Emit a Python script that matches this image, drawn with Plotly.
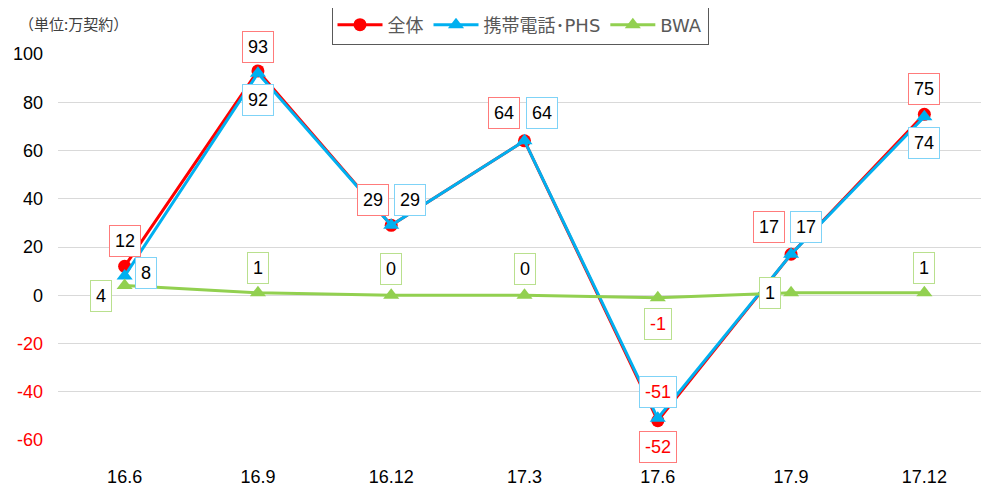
import plotly.graph_objects as go

categories = ["16.6", "16.9", "16.12", "17.3", "17.6", "17.9", "17.12"]
total = [12, 93, 29, 64, -52, 17, 75]
mobile_phs = [8, 92, 29, 64, -51, 17, 74]
bwa = [4, 1, 0, 0, -1, 1, 1]
y_ticks = [100, 80, 60, 40, 20, 0, -20, -40, -60]

series_names = ["全体", "携帯電話･PHS", "BWA"]
series_values = [total, mobile_phs, bwa]
line_colors = ["#FF0000", "#00B0F0", "#92D050"]
box_colors = ["#FF7B7B", "#7FD3F7", "#B9E08E"]
symbols = ["circle", "triangle-up", "triangle-up"]
marker_sizes = [13, 14, 14]

# label offsets in pixels (dx, dy; dy positive = up)
label_offsets = [
    [(0, 25), (0, 24), (-18, 25), (-21, 28), (0, -26), (-22, 27), (0, 25)],
    [(21, 3), (0, -27), (19, 25), (17, 28), (0, 26), (15, 27), (0, -26)],
    [(-24, -10), (0, 25), (0, 26), (0, 26), (0, -26), (-21, 0), (0, 25)],
]

FONT = "Liberation Sans, Arial, sans-serif"
CJK = "Noto Sans CJK JP, Liberation Sans, sans-serif"
LEGEND_FONT = "DejaVu Sans, Noto Sans CJK JP, sans-serif"

# page body has an 8px margin; figure coordinates are offset accordingly
OFF = 8
W, H = 989, 488
ML, MT = 58 - OFF, 54 - OFF
PW = 933
PH = 386
MR = W - ML - PW
MB = H - MT - PH

fig = go.Figure()
for name, vals, col, sym, ms in zip(series_names, series_values, line_colors, symbols, marker_sizes):
    fig.add_trace(go.Scatter(
        x=list(range(len(categories))), y=vals, name=name, mode="lines+markers",
        line=dict(color=col, width=3),
        marker=dict(symbol=sym, size=ms, color=col),
        cliponaxis=False,
    ))

annotations = []
for vals, bc, offs in zip(series_values, box_colors, label_offsets):
    for i, (v, (dx, dy)) in enumerate(zip(vals, offs)):
        annotations.append(dict(
            x=i, y=v, xref="x", yref="y", text=str(v), showarrow=False,
            xshift=dx, yshift=dy,
            font=dict(family=FONT, size=18, color="#FF0000" if v < 0 else "#000000"),
            bgcolor="white", bordercolor=bc, borderwidth=1, borderpad=5,
        ))

annotations.append(dict(
    x=(17 - OFF - ML) / PW, y=1 + (MT - (24 - OFF)) / PH, xref="paper", yref="paper",
    text="（単位:万契約）", showarrow=False,
    xanchor="left", yanchor="middle",
    font=dict(family=CJK, size=15, color="#404040"),
))

tick_text = [("<span style='color:#FF0000'>%d</span>" % t) if t < 0 else str(t) for t in y_ticks]

fig.update_layout(
    width=W, height=H,
    margin=dict(l=ML, r=MR, t=MT, b=MB, autoexpand=False),
    paper_bgcolor="white", plot_bgcolor="white",
    showlegend=True,
    legend=dict(
        orientation="h", x=(520 - OFF) / W, y=1 - (25 - OFF) / H, xref="container", yref="container",
        xanchor="center", yanchor="middle",
        bordercolor="#595959", borderwidth=1,
        font=dict(family=LEGEND_FONT, size=18, color="#595959"),
        itemwidth=45,
    ),
    xaxis=dict(
        range=[-0.5, 6.5], showgrid=False, showline=False, zeroline=False,
        tickmode="array", tickvals=list(range(len(categories))), ticktext=categories,
        ticks="", tickfont=dict(family=FONT, size=18, color="#000000"),
        ticklabelstandoff=24,
    ),
    yaxis=dict(
        range=[-60, 100], tickvals=y_ticks, ticktext=tick_text,
        showgrid=True, gridcolor="#D9D9D9", gridwidth=1,
        zeroline=True, zerolinecolor="#D9D9D9", zerolinewidth=1,
        showline=False, ticks="",
        tickfont=dict(family=FONT, size=18, color="#000000"),
        ticklabelstandoff=14,
    ),
    annotations=annotations,
)

fig.write_html("out.html")
